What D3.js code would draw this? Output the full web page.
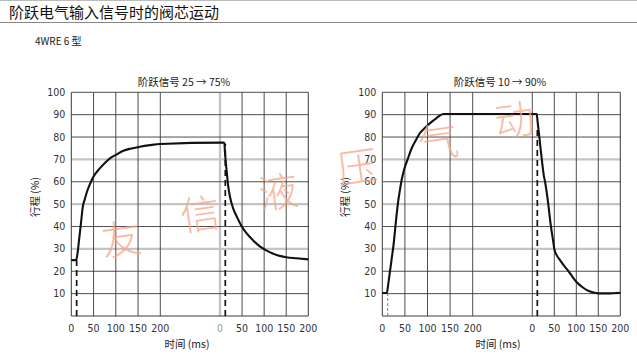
<!DOCTYPE html>
<html><head><meta charset="utf-8">
<script src="https://cdn.jsdelivr.net/npm/d3@7/dist/d3.min.js"></script>
<style>
html,body{margin:0;padding:0;background:#fff;}
svg{display:block;}
.num{font-family:"Liberation Sans Narrow","DejaVu Sans Condensed","Liberation Sans",sans-serif;}
.cjk{font-family:"Noto Sans CJK SC","Noto Sans",sans-serif;}
</style></head>
<body>
<svg id="c" width="637" height="364"></svg>
<script>
// ---- data ----
const headerTitle = "阶跃电气输入信号时的阀芯运动";
const subTitle = "4WRE 6 型";
const chartTitles = ["阶跃信号 25 → 75%", "阶跃信号 10 → 90%"];
const yTicks = [10,20,30,40,50,60,70,80,90,100];
const xTicks = [0,50,100,150,200];
const yLabel = "行程 (%)";
const xLabel = "时间 (ms)";
const watermark = ["友","信","液","压","气","动"];

// chart 1: step 25 -> 75 %  (time ms, stroke %)
const rise1 = [[0,25],[11,25],[14,28],[18,35],[22,42],[26,49],[30,52],[36,56],[42,59],[52,63],[64,66],[76,68.5],[87,70.5],[100,72],[117,73.9],[135,74.9],[154,75.7],[177,76.4],[200,76.9]];
const fall1 = [[7,77.5],[10,77.3],[11,74],[13,69],[15,65],[18,59],[22.6,53.3],[30,48],[38,44.4],[48,40.5],[60,37],[75,33.8],[91,31],[110,28.8],[128,27.3],[150,26.3],[173,25.8],[200,25.3]];
const signal1 = {riseT:12, riseTop:25, fallT:12, fallTop:77};

// chart 2: step 10 -> 90 %
const rise2 = [[0,10.3],[10,10.3],[13,14],[17,20],[21,26],[25,32],[28,38],[31,44],[35,51],[39,56.3],[43,61],[48,65.3],[56,70],[65,75],[74,78.5],[83,81.7],[94,84],[105,86.1],[120,88.5],[135,90.3],[200,90.3]];
const fall2 = [[10,90.3],[12,87],[16,80],[21,71],[26,63],[29,60],[36,50.5],[42,40.5],[47,34],[50,30],[56,27],[63,25],[72,22.5],[82,20.1],[92,17.3],[101,15.1],[112,13.2],[124,11.6],[137,10.6],[150,10.1],[170,10.1],[200,10.4]];
const signal2 = {riseT:12, riseTop:10, fallT:11.4, fallTop:85};

// ---- drawing ----
const svg = d3.select("#c");
svg.append("line").attr("x1",0).attr("x2",637).attr("y1",0.5).attr("y2",0.5).attr("stroke","#bbb");
svg.append("text").attr("class","cjk").attr("x",9).attr("y",17.5).attr("font-size",15).attr("fill","#111").text(headerTitle);
svg.append("line").attr("x1",0).attr("x2",637).attr("y1",22.5).attr("y2",22.5).attr("stroke","#888").attr("stroke-width",1.2);
svg.append("text").attr("class","cjk").attr("x",35).attr("y",45).attr("font-size",10).attr("fill","#222").text(subTitle);

function drawChart(cfg){
  const g = svg.append("g");
  const y = d3.scaleLinear().domain([0,100]).range([316,92.3]);
  const xA = d3.scaleLinear().domain([0,200]).range(cfg.aRange);
  const xB = d3.scaleLinear().domain([0,200]).range(cfg.bRange);
  const L = cfg.aRange[0], R = cfg.bRange[1];
  const gray = "#c4c4c4", dark = "#3a3a3a";
  // gray grid first
  [30,50,70].forEach(v=>{
    g.append("line").attr("x1",L).attr("x2",R).attr("y1",y(v)).attr("y2",y(v)).attr("stroke",gray).attr("stroke-width",2.4);
  });
  if(cfg.b0gray){
    g.append("line").attr("x1",xB(0)).attr("x2",xB(0)).attr("y1",y(0)).attr("y2",y(100)).attr("stroke",gray).attr("stroke-width",2.4);
  }
  // dark grid
  yTicks.filter(v=>![30,50,70].includes(v)).forEach(v=>{
    g.append("line").attr("x1",L).attr("x2",R).attr("y1",y(v)).attr("y2",y(v)).attr("stroke",dark).attr("stroke-width",0.9);
  });
  xTicks.filter(t=>t>0).forEach(t=>{
    g.append("line").attr("x1",xA(t)).attr("x2",xA(t)).attr("y1",y(0)).attr("y2",y(100)).attr("stroke",dark).attr("stroke-width",0.9);
  });
  xTicks.filter(t=>t<200 && !(t===0 && cfg.b0gray)).forEach(t=>{
    g.append("line").attr("x1",xB(t)).attr("x2",xB(t)).attr("y1",y(0)).attr("y2",y(100)).attr("stroke",dark).attr("stroke-width",0.9);
  });
  // frame
  g.append("line").attr("x1",L).attr("x2",L).attr("y1",y(0)).attr("y2",y(100)).attr("stroke",dark).attr("stroke-width",1);
  g.append("line").attr("x1",R).attr("x2",R).attr("y1",y(0)).attr("y2",y(100)).attr("stroke",dark).attr("stroke-width",1);
  g.append("line").attr("x1",L).attr("x2",R).attr("y1",y(0)).attr("y2",y(0)).attr("stroke",dark).attr("stroke-width",1);

  // y tick labels
  g.selectAll(".yt").data(yTicks).enter().append("text").attr("class","num")
    .attr("x",L-6).attr("y",d=>y(d)+3.5).attr("text-anchor","end").attr("font-size",10.5).attr("fill","#333").text(d=>d);
  // x tick labels
  g.selectAll(".xa").data(xTicks).enter().append("text").attr("class","num")
    .attr("x",d=>xA(d)).attr("y",331.5).attr("text-anchor","middle").attr("font-size",10.5).attr("fill","#333").text(d=>d);
  g.selectAll(".xb").data(xTicks).enter().append("text").attr("class","num")
    .attr("x",d=>xB(d)).attr("y",331.5).attr("text-anchor","middle").attr("font-size",10.5)
    .attr("fill",d=>(d===0&&cfg.b0gray)?"#999":"#333").text(d=>d);
  // titles
  g.append("text").attr("class","cjk").attr("x",cfg.titleX).attr("y",86).attr("text-anchor","middle").attr("font-size",10.5).attr("fill","#222").text(cfg.title);
  g.append("text").attr("class","cjk").attr("x",cfg.xLabelX).attr("y",348).attr("text-anchor","middle").attr("font-size",10.5).attr("fill","#222").text(xLabel);
  g.append("text").attr("class","cjk").attr("transform",`translate(${cfg.yLabelX},197) rotate(-90)`).attr("text-anchor","middle").attr("font-size",10.5).attr("fill","#222").text(yLabel);

  // signal dashed lines
  g.append("line").attr("x1",xA(cfg.sig.riseT)).attr("x2",xA(cfg.sig.riseT)).attr("y1",y(0)).attr("y2",y(cfg.sig.riseTop))
    .attr("stroke",cfg.riseDashColor).attr("stroke-width",cfg.riseDashW).attr("stroke-dasharray",cfg.riseDash);
  g.append("line").attr("x1",xB(cfg.sig.fallT)).attr("x2",xB(cfg.sig.fallT)).attr("y1",y(0)).attr("y2",y(cfg.sig.fallTop))
    .attr("stroke","#111").attr("stroke-width",1.7).attr("stroke-dasharray","6,4");

  // response curve
  const pts = cfg.rise.map(d=>({x:xA(d[0]),v:d[1]})).concat(cfg.fall.map(d=>({x:xB(d[0]),v:d[1]})));
  const line = d3.line().x(d=>d.x).y(d=>y(d.v)).curve(d3.curveMonotoneX);
  g.append("path").datum(pts).attr("d",line).attr("fill","none").attr("stroke","#111").attr("stroke-width",2.1).attr("stroke-linejoin","round");
}

drawChart({aRange:[71.3,160.3], bRange:[220,308.3], b0gray:true, title:chartTitles[0], titleX:184, xLabelX:187, yLabelX:39,
  rise:rise1, fall:fall1, sig:signal1, riseDashColor:"#111", riseDashW:1.7, riseDash:"6,4"});
drawChart({aRange:[382.3,472.7], bRange:[532.3,620.3], b0gray:false, title:chartTitles[1], titleX:500, xLabelX:498, yLabelX:349,
  rise:rise2, fall:fall2, sig:signal2, riseDashColor:"#777", riseDashW:1, riseDash:"3,2"});

// watermark
const wmPos = [[121,237],[200,212],[278,190],[357,165],[438,140],[514,118]];
svg.selectAll(".wm").data(watermark).enter().append("text").attr("class","cjk")
  .attr("transform",(d,i)=>`translate(${wmPos[i][0]},${wmPos[i][1]}) rotate(-8)`)
  .attr("text-anchor","middle").attr("dominant-baseline","central")
  .attr("font-size",40).attr("font-weight",300).attr("fill","#f7a487").attr("fill-opacity",0.75).text(d=>d);
</script>
</body></html>
